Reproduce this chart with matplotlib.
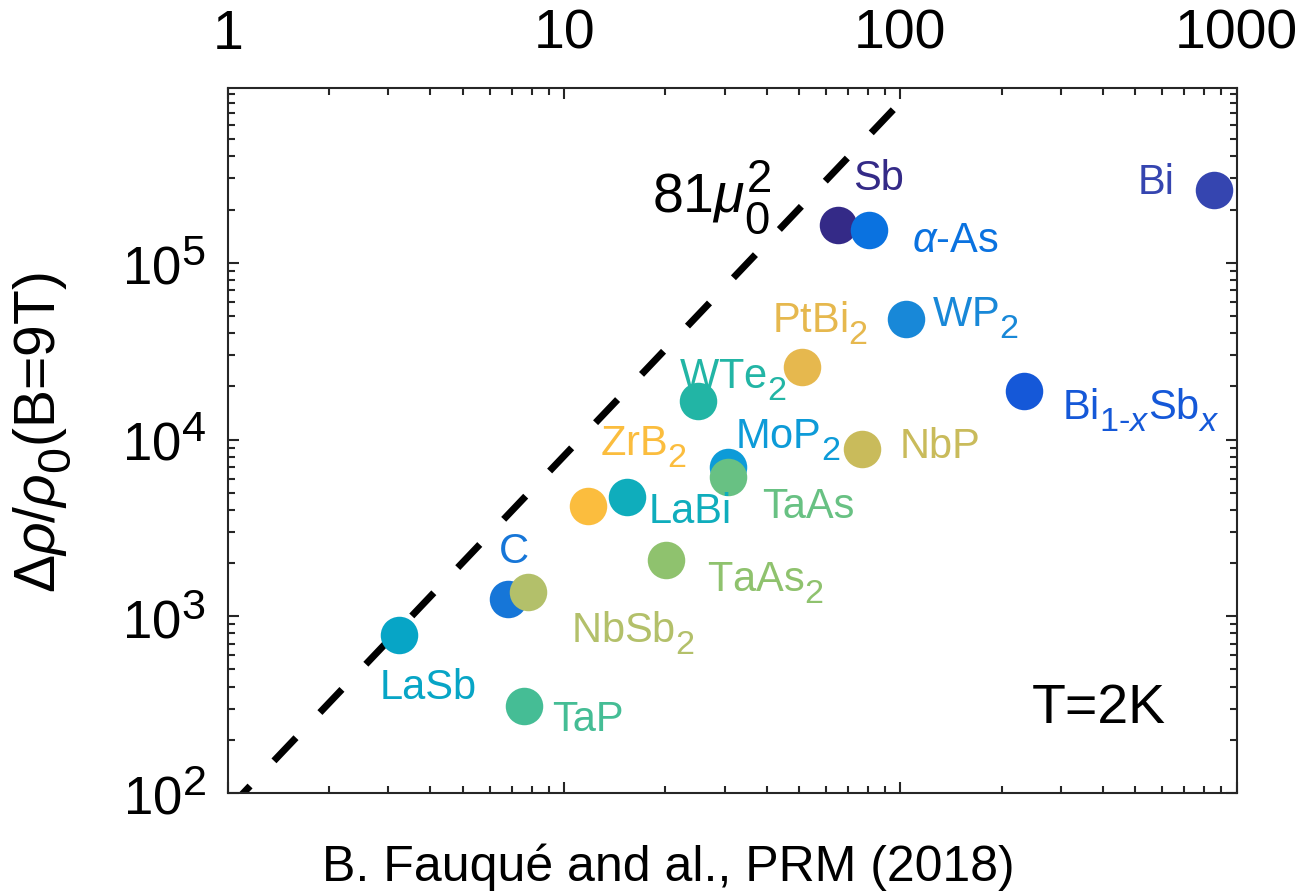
import matplotlib
matplotlib.use('Agg')
import matplotlib.pyplot as plt
import matplotlib._mathtext as mt
import numpy as np

plt.rcParams['font.family'] = ['Liberation Sans', 'DejaVu Sans']
plt.rcParams['mathtext.fontset'] = 'custom'
plt.rcParams['mathtext.rm'] = 'Liberation Sans'
plt.rcParams['mathtext.it'] = 'Liberation Sans:italic'
# MATLAB-like big, low sub/superscripts
mt.SHRINK_FACTOR = 0.82
mt.FontConstantsBase.sub1 = 0.55
mt.FontConstantsBase.sub2 = 0.75

# data
names = ['LaSb', 'C', 'NbSb$_2$', 'TaP', 'ZrB$_2$', 'LaBi', 'TaAs$_2$', 'WTe$_2$',
         'MoP$_2$', 'TaAs', 'PtBi$_2$', 'NbP', 'Sb', r'$\alpha$-As', 'WP$_2$',
         'Bi$_{1\u2010x}$Sb$_x$', 'Bi']
mobility = [3.23, 6.8, 7.8, 7.6, 11.8, 15.4, 20.1, 25.0, 30.8, 30.8, 51.1, 77.0,
            65.3, 80.9, 104.0, 234.0, 855.0]
mr = [780, 1260, 1370, 310, 4180, 4700, 2070, 16600, 6950, 6100, 25800, 8800,
      164000, 153000, 48300, 18700, 258000]
fit_coef = 81

colors = ['#07a5c6', '#1676d8', '#b3c06a', '#45bd95', '#fbbd3e', '#0fadbc', '#8fc26e',
          '#22b5a5', '#0d9bd8', '#68c183', '#e6b84e', '#c9bb5b', '#342a87', '#0a72e0',
          '#1888d8', '#1558d8', '#3545b0']
# label offsets (pixels) from each marker
offsets = [(29, -53), (6, 47), (105, -41), (64, -14), (55, 59), (63, -15), (99, -23),
           (35, 20), (59, 27), (80, -30), (18, 44), (78, 2), (40, 46), (86, -11),
           (69, 0), (116, -19), (-58, 7)]

fig = plt.figure(figsize=(13.03, 8.93), dpi=100)
ax = fig.add_axes([0.175, 0.112, 0.774, 0.789])
ax.set_xscale('log')
ax.set_yscale('log')
ax.set_xlim(1, 1000)
ax.set_ylim(100, 9.7e5)

xx = np.logspace(0, 3, 200)
ax.plot(xx, fit_coef * xx ** 2, color='black', lw=5, ls=(0, (4.6, 5)), zorder=1)

for i in range(len(names)):
    ax.plot(mobility[i], mr[i], 'o', ms=27, color=colors[i], mec='none', zorder=3)
    ax.annotate(names[i], (mobility[i], mr[i]), xytext=offsets[i],
                textcoords='offset pixels', ha='center', va='center',
                fontsize=30, color=colors[i], zorder=4)

ax.text(0.48, 0.845, r'81$\mu_0^2$', transform=ax.transAxes, fontsize=40,
        ha='center', va='center')
ax.text(0.863, 0.119, 'T=2K', transform=ax.transAxes, fontsize=40,
        ha='center', va='center')

ax.xaxis.tick_top()
ax.tick_params(which='both', direction='in', top=True, bottom=True, left=True,
               right=True, color='#262626', width=1.5)
ax.tick_params(which='major', length=8)
ax.tick_params(which='minor', length=5)
ax.tick_params(axis='x', labelsize=40, pad=20)
ax.tick_params(axis='y', labelsize=38, pad=16)
ax.set_xticks([1, 10, 100, 1000])
ax.set_xticklabels(['1', '10', '100', '1000'])
for s in ax.spines.values():
    s.set_linewidth(1.5)
    s.set_color('#262626')

ax.set_ylabel(r'$\Delta\rho/\rho_0$(B=9T)', fontsize=41)
ax.yaxis.set_label_coords(-0.154, 0.512)
fig.text(0.513, 0.013, 'B. Fauqué and al., PRM (2018)', fontsize=36,
         ha='center', va='baseline')

fig.savefig('out.png', dpi=100)
